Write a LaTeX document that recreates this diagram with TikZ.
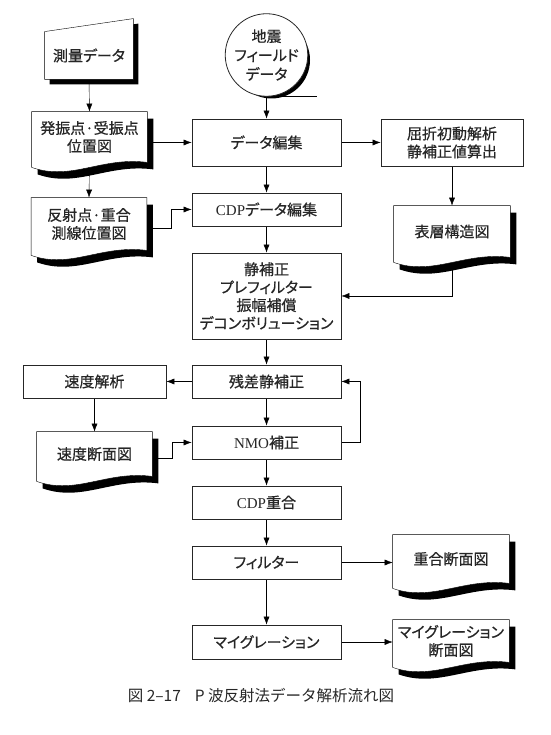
\documentclass[tikz,border=0pt]{standalone}
\usepackage{fontspec}
\setmainfont{Noto Sans CJK JP}[RawFeature=+palt,FakeBold=0.6]
\newfontfamily\romfont{Liberation Serif}
\newfontfamily\capfont{Noto Sans CJK JP}
\usepackage{tikz}
\usetikzlibrary{arrows.meta,backgrounds,calc,positioning}
\tikzset{%
	box/.style    = {draw, rectangle, fill=white, minimum width=149pt, minimum height=33pt, text centered, align=center},
	doc/.style    = {rectangle, minimum width=115pt, text centered, align=center},
	card/.style   = {rectangle, minimum width=88pt, minimum height=47pt, text centered},
	tape/.style   = {draw, circle, fill=white, minimum size=76pt, inner sep=0pt, align=center},
	arrow/.style  = {-{Latex[length=8pt,width=6pt]}},
	dropshadow/.style = {fill=black, transform canvas={shift={(6pt,-7pt)}}},
}
% outline of a document symbol with a wavy bottom
\newcommand\docpath[1]{(#1.north west) -- (#1.north east) -- (#1.south east) .. controls +(-46,6) and +(40,-14) .. ([yshift=-5pt]#1.south west) -- cycle}
% outline of a manual input symbol
\newcommand\cardpath[1]{(#1.south west) -- (#1.south east) -- ([yshift=13pt]#1.north east) -- (#1.north west) -- cycle}

\begin{document}
\begin{tikzpicture}[x=1pt,y=1pt,line width=0.8pt,color=black!85,
	every node/.style={font=\fontsize{15}{18}\selectfont}]
	\useasboundingbox (0,0) rectangle (550,735);

	% main column
	\node [box,minimum height=47pt] (edit) at (266.5,592.5) {データ編集};
	\node [box] (cdpedit) [below of=edit,node distance=67pt] {{\romfont CDP}データ編集};
	\node [box,minimum height=86pt] (prep) [below of=cdpedit,node distance=86.5pt] {静補正\\プレフィルター\\振幅補償\\デコンボリューション};
	\node [box] (resid) [below of=prep,node distance=85.5pt] {残差静補正};
	\node [box] (nmo) [below of=resid,node distance=61pt] {{\romfont NMO}補正};
	\node [box] (stack) [below of=nmo,node distance=60pt] {{\romfont CDP}重合};
	\node [box] (filt) [below of=stack,node distance=60pt] {フィルター};
	\node [box,minimum height=34pt] (migr) [below of=filt,node distance=79.5pt] {マイグレーション};

	% side nodes
	\node [tape,font=\fontsize{15}{19}\selectfont] (field) [above of=edit,node distance=87.5pt] {地震\\フィールド\\データ};
	\node [box,minimum width=142pt,minimum height=47pt] (refr) [right of=edit,node distance=185.5pt] {屈折初動解析\\静補正値算出};
	\node [box,minimum width=143pt] (vana) [left of=resid,node distance=172pt] {速度解析};
	\node [card] (survey) at (89,679.5) {測量データ};
	\node [doc,minimum height=50pt] (posmap) at (89.5,598) {発振点·受振点\\位置図};
	\node [doc,minimum height=52pt] (refl) at (89,511) {反射点·重合\\測線位置図};
	\node [doc,minimum width=116pt,minimum height=51pt] (surf) at (452,503.5) {表層構造図};
	\node [doc,minimum height=44pt] (vsec) at (94.5,281) {速度断面図};
	\node [doc,minimum width=116pt,minimum height=48pt] (stksec) at (451,176) {重合断面図};
	\node [doc,minimum width=116pt,minimum height=42pt] (migsec) at (451,94) {マイグレーション\\断面図};

	\node (cap) at (261,39) {\capfont\fontsize{15.5}{17}\selectfont 図 2–17\hspace{0.9em}P 波反射法データ解析流れ図};

	\begin{scope}[on background layer]
		\draw[arrow] (field.south) -- (edit.north);
		\draw[arrow] (edit) -- (cdpedit);
		\draw[arrow] (cdpedit) -- (prep);
		\draw[arrow] (prep) -- (resid);
		\draw[arrow] (resid) -- (nmo);
		\draw[arrow] (nmo) -- (stack);
		\draw[arrow] (stack) -- (filt);
		\draw[arrow] (filt) -- (migr);
		\draw[arrow] (survey.south) -- (posmap.north);
		\draw[arrow] (posmap.east |- edit.west) -- (edit.west);
		\draw[arrow] (posmap.south) -- (refl.north);
		\draw[arrow] ([yshift=-4pt]refl.east) -- ++(24,0) |- (cdpedit.west);
		\draw[arrow] (edit) -- (refr);
		\draw[arrow] (refr) -- (surf.north);
		\draw[arrow] (surf.south) |- (prep.east);
		\draw[arrow] (resid) -- (vana);
		\draw[arrow] (vana) -- (vsec.north);
		\draw[arrow] ([yshift=-4pt]vsec.east) -- ++(20,0) |- (nmo.west);
		\draw[arrow] (nmo.east) -- ++(19,0) |- (resid.east);
		\draw[arrow] (filt.east) -- (filt.east -| stksec.west);
		\draw[arrow] (migr.east) -- (migr.east -| migsec.west);
		\draw (field.south) -- ++(50,0);

		% shadows, then the white symbols
		\fill[black,transform canvas={shift={(5pt,-5pt)}}] (field.center) circle (38.5pt);
		\fill[black,transform canvas={shift={(5pt,-5pt)}}] \cardpath{survey};
		\foreach \n in {posmap,refl,surf,vsec,stksec,migsec}
			\fill[dropshadow] \docpath{\n};
		\filldraw[fill=white] \cardpath{survey};
		\foreach \n in {posmap,refl,surf,vsec,stksec,migsec}
			\filldraw[fill=white] \docpath{\n};
	\end{scope}
\end{tikzpicture}
\end{document}
